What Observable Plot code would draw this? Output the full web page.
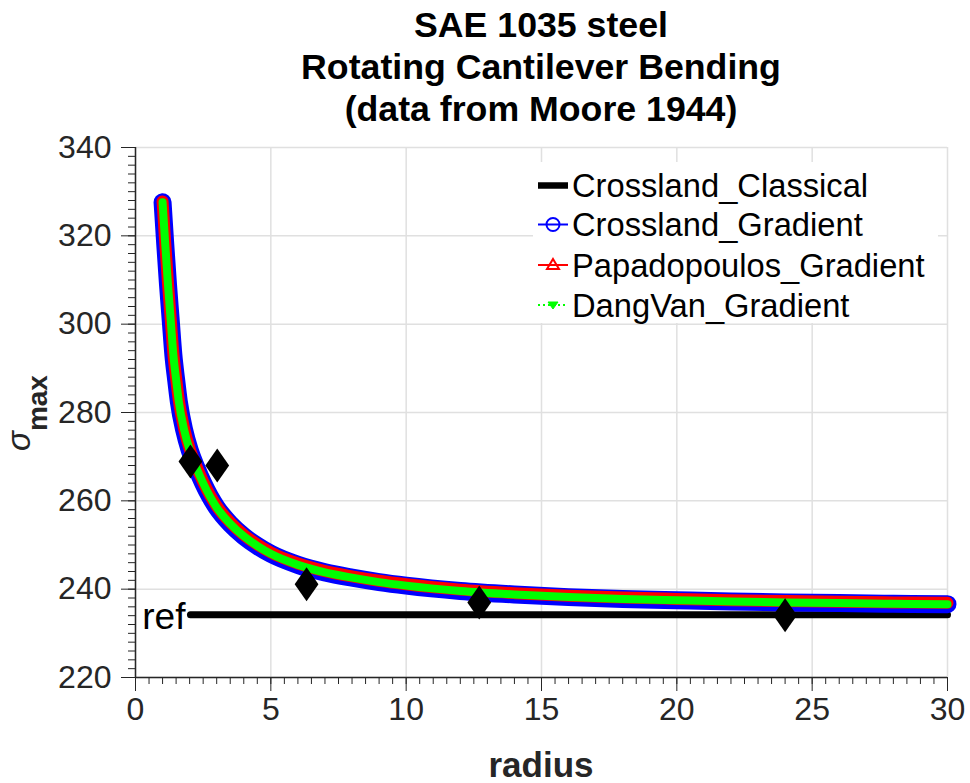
<!DOCTYPE html>
<html><head><meta charset="utf-8">
<script src="https://cdn.jsdelivr.net/npm/d3@7"></script>
<script src="https://cdn.jsdelivr.net/npm/@observablehq/plot@0.6"></script>
<style>
body{margin:0;background:#fff;font-family:"Liberation Sans",Arial,Helvetica,sans-serif;}
#title{box-sizing:border-box;height:130px;width:970px;padding:4px 23px 0 135px;text-align:center;font-weight:bold;font-size:35.7px;line-height:42px;color:#000;}
#chart svg{display:block;}
</style></head><body>
<div id="title"><div>SAE 1035 steel</div><div>Rotating Cantilever Bending</div><div>(data from Moore 1944)</div></div>
<div id="chart"></div>
<script>
// ---- data ----
const radius = [1, 1.1, 1.2, 1.3, 1.4, 1.5, 1.6, 1.8, 2, 2.25, 2.5, 2.75, 3, 3.5, 4, 4.5, 5, 6, 7, 8, 9, 10, 12, 14, 16, 18, 20, 22, 24, 26, 28, 30];
const dangVanGradient = [327.6, 318, 309, 301, 293, 287.5, 282.5, 276, 271.5, 267.5, 264, 261, 258.5, 254.8, 252.0, 249.8, 248.0, 245.5, 243.8, 242.6, 241.6, 240.8, 239.6, 238.8, 238.2, 237.8, 237.5, 237.2, 237.0, 236.85, 236.7, 236.6];
const crosslandGradient = [327.6, 318, 309, 301, 293, 287.5, 282.5, 276, 271.5, 267.5, 264, 261, 258.5, 254.8, 252.0, 249.8, 248.0, 245.5, 243.8, 242.6, 241.6, 240.8, 239.6, 238.8, 238.2, 237.8, 237.5, 237.2, 237.0, 236.85, 236.7, 236.6];
const papadopoulosGradient = [327.8, 318.3, 309.3, 301.3, 293.3, 287.8, 282.8, 276.3, 271.8, 267.8, 264.3, 261.3, 258.8, 255.1, 252.3, 250.1, 248.3, 245.8, 244.1, 242.9, 241.9, 241.1, 239.9, 239.1, 238.5, 238.1, 237.8, 237.5, 237.3, 237.15, 237.0, 236.9];
const classicalRadius = [2.03, 30];
const classicalSigma = [234.2, 234.2];
const expRadius = [2.03, 3.02, 6.32, 12.7, 24.0];
const expSigma = [268.9, 268.0, 241.1, 237.0, 234.1];
const xTicks = [0, 5, 10, 15, 20, 25, 30];
const yTicks = [220, 240, 260, 280, 300, 320, 340];
const seriesNames = ["Crossland_Classical", "Crossland_Gradient", "Papadopoulos_Gradient", "DangVan_Gradient"];
const seriesColors = ["#000000", "#0000ff", "#ff0000", "#00ff00"];

// ---- tables ----
const rows = radius.map((r, i) => ({r, cg: crosslandGradient[i], pg: papadopoulosGradient[i], dv: dangVanGradient[i]}));
const ref = classicalRadius.map((x, i) => ({x, y: classicalSigma[i]}));
const exp = expRadius.map((x, i) => ({x, y: expSigma[i]}));
const xMinor = d3.range(0, 30.001, 0.5);
const yMinor = d3.range(220, 340.001, 2);

const diamond = {draw(ctx, size) {
  const r = Math.sqrt(size / Math.PI), w = r * 0.7;
  ctx.moveTo(0, -r); ctx.lineTo(w, 0); ctx.lineTo(0, r); ctx.lineTo(-w, 0); ctx.closePath();
}};

const axisColor = "#262626";
const font = "Liberation Sans, Arial, Helvetica, sans-serif";

const plot = Plot.plot({
  width: 970, height: 653,
  marginTop: 17, marginRight: 23, marginBottom: 106, marginLeft: 135,
  style: {fontFamily: font, fontSize: "32px", color: axisColor, background: "white", overflow: "visible"},
  x: {domain: [0, 30]},
  y: {domain: [220, 340]},
  marks: [
    Plot.gridX(xTicks, {stroke: "#e0e0e0", strokeOpacity: 1, strokeWidth: 1.5}),
    Plot.gridY(yTicks, {stroke: "#e0e0e0", strokeOpacity: 1, strokeWidth: 1.5}),
    Plot.axisX(xMinor, {tickSize: 7, tickFormat: () => "", label: null, stroke: axisColor}),
    Plot.axisY(yMinor, {tickSize: 7, tickFormat: () => "", label: null, stroke: axisColor}),
    Plot.axisX(xTicks, {tickSize: 14, tickPadding: 6, label: null, stroke: axisColor, fontSize: 32}),
    Plot.axisY(yTicks, {tickSize: 14, tickPadding: 10, label: null, stroke: axisColor, fontSize: 32}),
    Plot.ruleY([220], {stroke: axisColor, strokeWidth: 1.5}),
    Plot.ruleX([0], {stroke: axisColor, strokeWidth: 1.5}),
    Plot.line(ref, {x: "x", y: "y", stroke: seriesColors[0], strokeWidth: 7}),
    Plot.line(rows, {x: "r", y: "cg", stroke: seriesColors[1], strokeWidth: 18, strokeLinecap: "round", curve: "monotone-x"}),
    Plot.line(rows, {x: "r", y: "pg", stroke: seriesColors[2], strokeWidth: 12, strokeLinecap: "round", curve: "monotone-x"}),
    Plot.line(rows, {x: "r", y: "dv", stroke: seriesColors[3], strokeWidth: 8, curve: "monotone-x"}),
    Plot.dot(exp, {x: "x", y: "y", symbol: diamond, r: 17, fill: "black", stroke: "none"}),
    Plot.text(["ref"], {x: classicalRadius[0], y: classicalSigma[0], text: d => d, textAnchor: "end", dx: -5, dy: 2, fontSize: 37, fill: "black"})
  ]
});
document.getElementById("chart").appendChild(plot);

const svg = d3.select(plot);
// x label
svg.append("text").attr("x", 541).attr("y", 647).attr("text-anchor", "middle")
  .attr("font-family", font).attr("font-size", 35).attr("font-weight", "bold").attr("fill", axisColor).text("radius");
// y label
const yl = svg.append("text").attr("transform", "translate(30,321) rotate(-90)")
  .attr("font-family", font).attr("fill", axisColor).attr("text-anchor", "start");
yl.append("tspan").attr("font-style", "italic").attr("font-size", 33).text("σ");
yl.append("tspan").attr("font-weight", "bold").attr("font-size", 28).attr("dy", 17).text("max");

// legend
const lg = svg.append("g").attr("text-anchor", "start");
lg.append("rect").attr("x", 533).attr("y", 32).attr("width", 405).attr("height", 161).attr("fill", "white");
const base = [67, 106, 146.5, 186.5];
seriesNames.forEach((name, i) => {
  const cy = base[i] - 11.5;
  const line = lg.append("line").attr("x1", 538).attr("x2", 568).attr("y1", cy).attr("y2", cy).attr("stroke", seriesColors[i]);
  if (i === 0) line.attr("stroke-width", 6.5);
  else line.attr("stroke-width", 2);
  if (i === 3) line.attr("stroke-dasharray", "2,3");
  if (i === 1) lg.append("circle").attr("cx", 553).attr("cy", cy).attr("r", 6.5).attr("fill", "none").attr("stroke", seriesColors[1]).attr("stroke-width", 2);
  if (i === 2) lg.append("path").attr("d", `M553,${cy-6}L559,${cy+4}L547,${cy+4}Z`).attr("fill", "none").attr("stroke", seriesColors[2]).attr("stroke-width", 2);
  if (i === 3) lg.append("path").attr("d", `M548,${cy-3}L558,${cy-3}L553,${cy+4}Z`).attr("fill", seriesColors[3]).attr("stroke", seriesColors[3]).attr("stroke-width", 1);
  lg.append("text").attr("x", 572).attr("y", base[i]).attr("text-anchor", "start").attr("font-family", font).attr("font-size", 32.7).attr("fill", "black").text(name);
});
</script>
</body></html>
